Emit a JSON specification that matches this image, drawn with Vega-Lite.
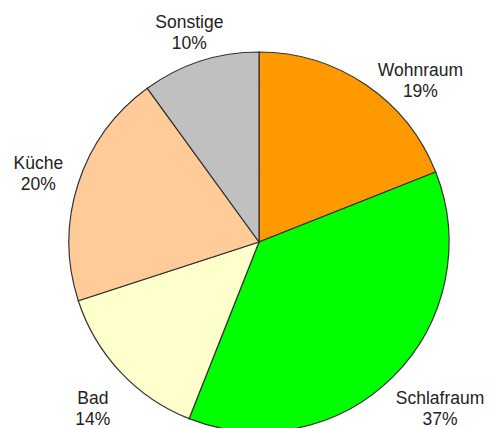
{
  "$schema": "https://vega.github.io/schema/vega-lite/v6.json",
  "autosize": "none",
  "padding": {"left": 27, "top": 0, "right": 0, "bottom": 0},
  "width": 464,
  "height": 484,
  "background": "white",
  "view": {"stroke": null},
  "data": {
    "values": [
      {"raum": "Wohnraum", "anteil": 19, "i": 1},
      {"raum": "Schlafraum", "anteil": 37, "i": 2},
      {"raum": "Bad", "anteil": 14, "i": 3},
      {"raum": "Küche", "anteil": 20, "i": 4},
      {"raum": "Sonstige", "anteil": 10, "i": 5}
    ]
  },
  "transform": [
    {"stack": "anteil", "groupby": [], "sort": [{"field": "i", "order": "ascending"}], "as": ["a0", "a1"]},
    {"calculate": "(datum.a0 + datum.a1) / 2", "as": "mid"},
    {"calculate": "datum.raum + '\\n' + datum.anteil + '%'", "as": "label"}
  ],
  "layer": [
    {
      "mark": {"type": "arc", "outerRadius": 190, "stroke": "#333333", "strokeWidth": 1.2},
      "encoding": {
        "theta": {"field": "a0", "type": "quantitative", "scale": {"domain": [0, 100]}},
        "theta2": {"field": "a1"},
        "color": {
          "field": "raum",
          "type": "nominal",
          "scale": {
            "domain": ["Wohnraum", "Schlafraum", "Bad", "Küche", "Sonstige"],
            "range": ["#FF9900", "#00FF00", "#FFFFCC", "#FFCC99", "#C0C0C0"]
          },
          "legend": null
        }
      }
    },
    {
      "transform": [{"filter": "datum.raum == 'Sonstige'"}],
      "mark": {"type": "text", "radius": 232, "dx": 2, "dy": 2, "font": "Liberation Sans", "fontSize": 17.5, "lineBreak": "\n", "lineHeight": 21, "color": "#222222", "align": "center", "baseline": "middle"},
      "encoding": {
        "theta": {"field": "mid", "type": "quantitative", "scale": {"domain": [0, 100]}},
        "text": {"field": "label"}
      }
    },
    {
      "transform": [{"filter": "datum.raum == 'Küche'"}],
      "mark": {"type": "text", "radius": 232, "dx": 0, "dy": -6, "font": "Liberation Sans", "fontSize": 17.5, "lineBreak": "\n", "lineHeight": 21, "color": "#222222", "align": "center", "baseline": "middle"},
      "encoding": {
        "theta": {"field": "mid", "type": "quantitative", "scale": {"domain": [0, 100]}},
        "text": {"field": "label"}
      }
    },
    {
      "transform": [{"filter": "datum.raum == 'Bad'"}],
      "mark": {"type": "text", "radius": 232, "dx": 3, "dy": -2, "font": "Liberation Sans", "fontSize": 17.5, "lineBreak": "\n", "lineHeight": 21, "color": "#222222", "align": "center", "baseline": "middle"},
      "encoding": {
        "theta": {"field": "mid", "type": "quantitative", "scale": {"domain": [0, 100]}},
        "text": {"field": "label"}
      }
    },
    {
      "transform": [{"filter": "datum.raum == 'Wohnraum'"}],
      "mark": {"type": "text", "radius": 232, "dx": 31, "dy": 21, "font": "Liberation Sans", "fontSize": 17.5, "lineBreak": "\n", "lineHeight": 21, "color": "#222222", "align": "center", "baseline": "middle"},
      "encoding": {
        "theta": {"field": "mid", "type": "quantitative", "scale": {"domain": [0, 100]}},
        "text": {"field": "label"}
      }
    },
    {
      "transform": [{"filter": "datum.raum == 'Schlafraum'"}],
      "mark": {"type": "text", "radius": 232, "dx": 17, "dy": -7, "font": "Liberation Sans", "fontSize": 17.5, "lineBreak": "\n", "lineHeight": 21, "color": "#222222", "align": "center", "baseline": "middle"},
      "encoding": {
        "theta": {"field": "mid", "type": "quantitative", "scale": {"domain": [0, 100]}},
        "text": {"field": "label"}
      }
    }
  ]
}
